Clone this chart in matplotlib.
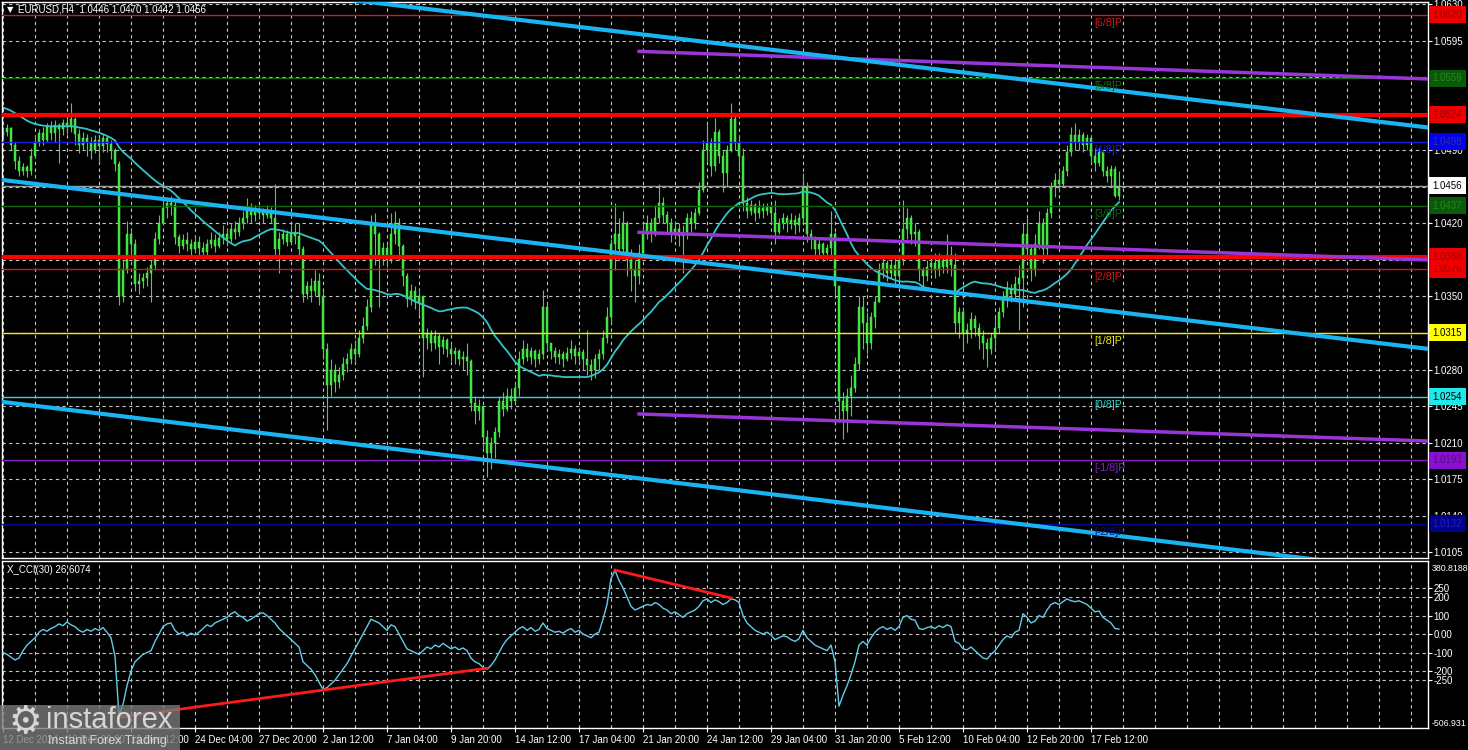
import numpy as np
import matplotlib
matplotlib.use('Agg')
import matplotlib.pyplot as plt
import matplotlib.transforms as mtransforms
from matplotlib.patches import Rectangle

plt.rcParams['font.family'] = ['Liberation Sans', 'DejaVu Sans']

# ---- data: EURUSD H4, prices in pips above 1.0000 ----
closes = [
    508, 511, 495, 480, 470, 474, 470, 485, 498, 507,
    500, 512, 507, 514, 510, 516, 512, 520, 506, 495,
    502, 498, 490, 500, 494, 502, 496, 490, 477, 350,
    375, 410, 400, 362, 365, 368, 372, 380, 405, 420,
    435, 440, 438, 407, 398, 404, 400, 395, 402, 396,
    393, 400, 404, 398, 406, 410, 405, 415, 412, 420,
    425, 432, 428, 433, 430, 428, 432, 425, 395, 405,
    410, 402, 412, 408, 395, 352, 360, 355, 365, 350,
    300, 265, 280, 268, 275, 285, 290, 300, 295, 310,
    322, 340, 420, 410, 390, 396, 385, 410, 420, 398,
    370, 348, 355, 345, 350, 310, 315, 305, 312, 302,
    308, 300, 295, 298, 290, 292, 288, 248, 240, 245,
    215, 200, 210, 220, 250, 242, 255, 250, 262, 290,
    300, 292, 298, 290, 295, 340, 305, 298, 292, 295,
    290, 296, 300, 293, 297, 290, 284, 280, 290, 295,
    310, 330, 400, 410, 395, 420, 385, 375, 370, 392,
    410, 420, 412, 425, 440, 428, 420, 410, 415, 408,
    412, 425, 420, 430, 452, 490, 498, 475, 508, 485,
    468, 490, 520, 498, 485, 440, 432, 438, 430, 435,
    432, 436, 430, 412, 420, 425, 420, 423, 418, 425,
    455, 410, 405, 395, 400, 392, 396, 410, 360, 250,
    240, 255, 262, 285, 340, 325, 305, 330, 345, 375,
    382, 372, 380, 370, 385, 415, 425, 410, 412, 375,
    370, 378, 382, 375, 385, 378, 390, 380, 325, 335,
    315, 318, 328, 320, 312, 305, 300, 310, 320, 335,
    348, 358, 352, 362, 368, 410, 395, 375, 400, 420,
    395, 430, 455, 462, 458, 470, 488, 505, 498, 505,
    495, 502, 485, 478, 488, 470, 465, 472, 446, 456,
]
highs = [
    512, 515, 512, 498, 485, 478, 476, 492, 505, 510,
    512, 516, 518, 519, 516, 520, 522, 535, 522, 510,
    508, 506, 503, 505, 503, 506, 504, 500, 492, 480,
    385, 422, 415, 405, 372, 372, 378, 385, 412, 428,
    445, 445, 446, 442, 410, 410, 412, 405, 408, 408,
    402, 405, 412, 410, 412, 418, 415, 420, 422, 426,
    432, 444, 440, 438, 436, 435, 438, 436, 458, 412,
    415, 414, 418, 420, 420, 398, 365, 368, 375, 372,
    355, 305, 290, 285, 282, 292, 296, 305, 308, 318,
    330, 348, 428, 430, 412, 402, 400, 430, 432, 425,
    400, 372, 362, 360, 358, 345, 320, 318, 318, 315,
    312, 310, 305, 302, 300, 298, 305, 290, 255, 252,
    245, 222, 215, 225, 255, 258, 262, 262, 268, 298,
    308, 305, 302, 300, 300, 356, 345, 305, 302, 300,
    298, 302, 308, 303, 302, 300, 318, 290, 295, 300,
    318, 340, 405, 440, 425, 432, 422, 395, 385, 400,
    420, 428, 425, 438, 458, 445, 432, 425, 422, 420,
    418, 430, 432, 435, 460, 500, 515, 502, 521, 510,
    490, 495, 535, 525, 505, 492, 445, 442, 440, 442,
    440, 440, 438, 442, 425, 430, 428, 430, 428, 430,
    468, 460, 415, 408, 405, 402, 400, 432, 412, 360,
    258, 262, 275, 292, 350, 350, 335, 335, 350, 382,
    390, 385, 386, 388, 390, 442, 435, 428, 420, 415,
    378, 385, 390, 392, 392, 390, 410, 398, 392, 340,
    340, 325, 335, 332, 325, 318, 310, 315, 330, 340,
    355, 365, 362, 370, 380, 420, 425, 400, 410, 432,
    425, 435, 460, 468, 470, 475, 495, 512, 516, 510,
    508, 506, 505, 492, 492, 490, 475, 476, 475, 470,
]
lows = [
    500, 504, 490, 472, 465, 466, 464, 466, 483, 494,
    495, 498, 500, 498, 478, 505, 506, 508, 495, 487,
    490, 485, 482, 487, 480, 488, 488, 482, 470, 342,
    345, 372, 390, 355, 352, 358, 360, 345, 375, 400,
    418, 425, 428, 400, 392, 395, 394, 388, 392, 390,
    386, 390, 396, 393, 396, 400, 398, 402, 405, 408,
    415, 420, 420, 422, 424, 420, 425, 420, 388, 372,
    400, 398, 400, 400, 390, 345, 348, 345, 350, 342,
    290, 222, 255, 258, 262, 270, 278, 285, 288, 292,
    305, 318, 335, 380, 340, 380, 378, 382, 400, 385,
    360, 340, 342, 338, 332, 273, 300, 298, 300, 285,
    295, 292, 288, 285, 284, 280, 275, 240, 228, 232,
    205, 177, 185, 195, 215, 235, 240, 242, 248, 255,
    285, 288, 285, 282, 285, 290, 298, 290, 286, 285,
    282, 288, 290, 285, 288, 280, 275, 270, 272, 280,
    290, 305, 325, 375, 385, 390, 370, 355, 345, 362,
    388, 405, 402, 408, 420, 420, 412, 402, 405, 398,
    372, 405, 412, 415, 428, 450, 480, 465, 470, 478,
    450, 455, 488, 490, 470, 432, 425, 428, 422, 425,
    425, 428, 420, 400, 410, 415, 412, 415, 410, 412,
    420, 402, 395, 385, 388, 384, 385, 388, 350, 230,
    213, 220, 235, 258, 280, 300, 295, 300, 320, 345,
    368, 365, 368, 362, 365, 380, 405, 400, 398, 365,
    360, 365, 372, 368, 370, 372, 372, 370, 315, 310,
    298, 305, 310, 312, 300, 290, 282, 295, 300, 315,
    330, 340, 345, 348, 318, 340, 385, 365, 370, 395,
    382, 390, 425, 445, 450, 455, 465, 485, 490, 490,
    488, 490, 478, 470, 475, 465, 460, 455, 445, 442,
]
first_open = 505
# closes before the first visible bar (feed the 30-bar moving average)
ma_seed = [548, 545, 550, 543, 540, 546, 541, 538, 530, 525,
           520, 518, 515, 512, 510, 514, 516, 520, 522, 518,
           525, 528, 530, 535, 540, 545, 548, 550, 545]
ma_period = 30

cci = [
    -100, -110, -125, -140, -130, -90, -60, -40, -20, 10,
    25, 15, 30, 40, 55, 45, 65, 50, 40, 20,
    10, 25, 15, 30, 20, 35, 10, -20, -120, -440,
    -380, -280, -200, -150, -130, -110, -100, -90, -40, 0,
    40, 55, 60, 20, 0, 10, -10, 5, -5, 10,
    30, 50, 40, 60, 70, 80, 90, 110, 120, 100,
    90, 70, 80, 95, 110, 115, 100, 80, 60, 30,
    10, -10, -30, -50, -70, -150, -170, -190, -220, -260,
    -300, -290, -270, -250, -220, -190, -160, -120, -80, -40,
    0, 40, 80, 70, 60, 40, 20, 50, 40, 0,
    -40, -80, -90, -100, -110, -90, -70, -80, -60, -70,
    -50, -65, -80, -70, -85, -75, -90, -130, -150, -160,
    -180, -190, -170, -140, -100, -60, -30, -10, 10, 30,
    40, 20, 35, 15, 25, 60, 30, 20, 10, 15,
    5, 20, 30, 10, 20, 0, -10, -20, 0, 10,
    80, 160, 300, 345, 290, 250, 200, 150, 130, 140,
    150, 160, 155, 170, 160, 140, 130, 110, 120, 105,
    90, 110, 120, 130, 150, 180, 190, 170, 185, 175,
    160, 170, 190, 185, 170, 100, 60, 40, 20, 10,
    0, 10, -5, -30, -20, -10, -15, -30, -40, -25,
    20, -20, -40, -60, -70, -80, -90, -60, -150, -390,
    -330, -280, -220, -150, -60, -40, -60, -20, 10, 30,
    40, 25, 35, 20, 40, 90, 100, 80, 75, 30,
    25, 35, 40, 30, 45, 35, 50, 40, -40, -50,
    -80, -85, -70, -90, -110, -130, -135, -110, -90, -60,
    -30, -10, -20, 10, 20, 110, 90, 60, 70, 100,
    90, 130, 160, 170, 160, 175, 190, 180, 175, 180,
    170, 160, 140, 120, 125, 90, 75, 60, 30, 26.6074,
]
cci_max, cci_min = 380.8188, -506.931
cci_levels = [250, 200, 100, 0, -100, -200, -250]
cci_level_labels = ['250', '200', '100', '0.00', '-100', '-200', '-250']

date_labels = ['12 Dec 2024', '16 Dec 20:00', '19 Dec 12:00', '24 Dec 04:00',
               '27 Dec 20:00', '2 Jan 12:00', '7 Jan 04:00', '9 Jan 20:00',
               '14 Jan 12:00', '17 Jan 04:00', '21 Jan 20:00', '24 Jan 12:00',
               '29 Jan 04:00', '31 Jan 20:00', '5 Feb 12:00', '10 Feb 04:00',
               '12 Feb 20:00', '17 Feb 12:00']
label_step = 16
grid_step = 8

# Murrey math levels
murrey_prices = [1.0620, 1.0559, 1.0498, 1.0437, 1.0376, 1.0315, 1.0254, 1.0193, 1.0132]
murrey_names = ['[6/8]P', '[5/8]P', '[4/8]P', '[3/8]P', '[2/8]P', '[1/8]P', '[0/8]P', '[-1/8]P', '[-2/8]P']
murrey_colors = ['#d01818', '#0c6a0c', '#1a1ae6', '#0c6a0c', '#d01818', '#f0f000', '#30d8d0', '#8a1ccc', '#0a0a90']
murrey_box_bg = ['#ee0000', '#0a5a0a', '#0000ee', '#0a5a0a', '#ee0000', '#ffff00', '#20e8e8', '#8a10d0', '#000088']
murrey_box_fg = ['#a00000', '#208a20', '#3030a0', '#208a20', '#a00000', '#000000', '#000000', '#5a0a8a', '#2020c0']
sr_prices = [1.0524, 1.0388]
last_price = 1.0456

# trend channel (bar index, price)
channel_bars = [0, 356]
channel_top = [1.06736, 1.05120]
channel_mid = [1.04615, 1.02999]
channel_bot = [1.02489, 1.00851]
regr_bars = [159, 356]
regr_top = [1.05848, 1.05584]
regr_mid = [1.04114, 1.03850]
regr_bot = [1.02374, 1.02115]

# CCI divergence lines
div1_bars, div1_vals = [29, 121], [-450, -185]
div2_bars, div2_vals = [153, 182], [346, 195]

# ---- prepare ----
n = len(closes)
assert len(highs) == n and len(lows) == n and len(cci) == n
c = 1 + np.array(closes) / 10000.0
o = np.r_[1 + first_open / 10000.0, c[:-1]]
h = np.maximum.reduce([1 + np.array(highs) / 10000.0, o, c])
l = np.minimum.reduce([1 + np.array(lows) / 10000.0, o, c])
x = np.arange(n)
full = 1 + np.r_[ma_seed, closes] / 10000.0
ma = np.convolve(full, np.ones(ma_period) / ma_period, mode='valid')

W, H = 1468, 750
fig = plt.figure(figsize=(W / 100, H / 100), dpi=100, facecolor='black')
ax = fig.add_axes([2 / W, 1 - 558 / H, 1426 / W, 556 / H])
axc = fig.add_axes([2 / W, 1 - 728 / H, 1426 / W, 167 / H])
xlim = (-0.25, 356.25)
grid_kw = dict(color='#c4c4c4', lw=0.8, ls=(0, (3, 3)), zorder=0.5)

for a in (ax, axc):
    a.set_facecolor('black')
    a.set_xlim(*xlim)
    for s in a.spines.values():
        s.set_color('white')
        s.set_linewidth(1)
    for b in range(0, 357, grid_step):
        a.axvline(b, **grid_kw)

# ---- price panel ----
ax.set_ylim(1.00994, 1.06321)
yt = [1.0105 + 0.0035 * k for k in range(16)]
for v in yt:
    ax.axhline(v, **grid_kw)
ax.yaxis.tick_right()
ax.set_yticks(yt)
ax.set_yticklabels(['%.4f' % v for v in yt])
ax.tick_params(axis='y', colors='white', labelsize=7, length=3, pad=1)
ax.tick_params(axis='x', length=0, labelbottom=False)

# candles
green = '#3ddc3d'
ax.vlines(x, l, h, color=green, lw=0.8, zorder=2)
body = np.maximum(np.abs(c - o), 0.00004)
ax.bar(x, body, bottom=np.minimum(o, c), width=0.7, color=green,
       edgecolor='#5cff5c', linewidth=0.3, zorder=2.1)
ax.plot(x, ma, color='#35c4c8', lw=1.3, zorder=2.5)

for p, col in zip(murrey_prices, murrey_colors):
    ax.axhline(p, color=col, lw=1, zorder=3)
for p in sr_prices:
    ax.axhline(p, color='#ff0000', lw=3, zorder=3.2)
ax.axhline(last_price, color='#a0a0a0', lw=1, zorder=3)

for ys in (regr_top, regr_mid, regr_bot):
    ax.plot(regr_bars, ys, color='#9a36d8', lw=2.5, zorder=3.3)
for ys in (channel_top, channel_mid, channel_bot):
    ax.plot(channel_bars, ys, color='#1ab4f2', lw=3, zorder=3.5)

for p, name, col in zip(murrey_prices, murrey_names, murrey_colors):
    ax.text(272.75, p - 0.00028, name, color=col, fontsize=7.7, ha='left', va='top', zorder=4)

blend = mtransforms.blended_transform_factory(ax.transAxes, ax.transData)
box_prices = murrey_prices + sr_prices + [last_price]
box_bg = murrey_box_bg + ['#ee0000', '#ee0000', '#ffffff']
box_fg = murrey_box_fg + ['#a00000', '#a00000', '#000000']
for p, bg, fg in zip(box_prices, box_bg, box_fg):
    ax.text(1.0032, p, '%.4f' % p, transform=blend, fontsize=7, color=fg,
            ha='left', va='center', clip_on=False, zorder=10,
            bbox=dict(boxstyle='square,pad=0.36', fc=bg, ec='none'))

ax.text(0.0036, 0.9857, '\u25bc', transform=ax.transAxes, color='white', fontsize=6,
        ha='left', va='center', family='DejaVu Sans')
ax.text(0.0113, 0.9857, 'EURUSD,H4  %.4f %.4f %.4f %.4f' % (o[-1], h[-1], l[-1], c[-1]),
        transform=ax.transAxes, color='white', fontsize=7, ha='left', va='center')

# ---- CCI panel ----
axc.set_ylim(-508, 395)
for v in cci_levels:
    axc.axhline(v, **grid_kw)
axc.yaxis.tick_right()
axc.set_yticks(cci_levels)
axc.set_yticklabels(cci_level_labels)
axc.tick_params(axis='y', colors='white', labelsize=7, length=3, pad=1)
cblend = mtransforms.blended_transform_factory(axc.transAxes, axc.transData)
axc.text(1.0028, cci_max, '%.4f' % cci_max, transform=cblend, color='white', fontsize=6.3,
         ha='left', va='top', clip_on=False)
axc.text(1.0028, cci_min, '%.3f' % cci_min, transform=cblend, color='white', fontsize=6.3,
         ha='left', va='bottom', clip_on=False)
axc.plot(x, cci, color='#62cde6', lw=1, zorder=3)
axc.plot(div1_bars, div1_vals, color='#ff1a1a', lw=2, zorder=3.5)
axc.plot(div2_bars, div2_vals, color='#ff1a1a', lw=2, zorder=3.5)
axc.text(0.0035, 0.946, 'X_CCI(30) %.4f' % cci[-1], transform=axc.transAxes,
         color='white', fontsize=7, ha='left', va='center')

axc.set_xticks(np.arange(len(date_labels)) * label_step)
axc.set_xticklabels(date_labels)
for t in axc.get_xticklabels():
    t.set_ha('left')
axc.tick_params(axis='x', colors='white', labelsize=7, length=3, pad=2)

# watermark
fig.add_artist(Rectangle((0, 0), 180 / W, 45 / H, transform=fig.transFigure,
                         fc='#7a7a7a', ec='none', alpha=0.8, zorder=20))
fig.text(25 / W, 1 - 723 / H, '\u2699', color='#d6d6d6', fontsize=27, ha='center',
         va='center', family='DejaVu Sans', zorder=21)
fig.text(46 / W, 1 - 720 / H, 'instaforex', color='#d6d6d6', fontsize=21,
         ha='left', va='center', zorder=21)
fig.text(48 / W, 1 - 741 / H, 'Instant Forex Trading', color='#d6d6d6', fontsize=9,
         ha='left', va='center', zorder=21)

fig.savefig('out.png', dpi=100, facecolor='black')
